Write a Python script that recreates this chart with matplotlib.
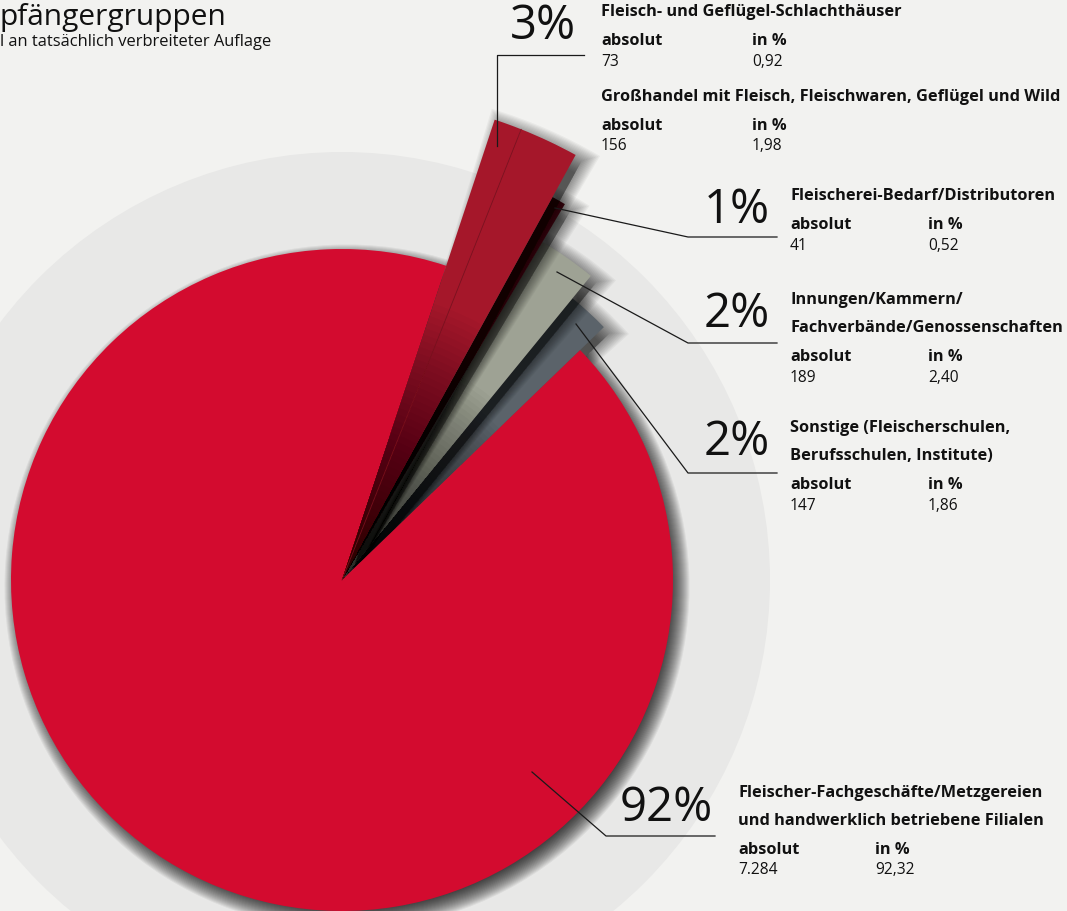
import matplotlib
matplotlib.use("Agg")
import matplotlib.pyplot as plt
from matplotlib.patches import Wedge, Circle
import numpy as np

W, H = 1067, 911

# ---------------- data ----------------
categories = [
    "Sonstige (Fleischerschulen,\nBerufsschulen, Institute)",
    "Innungen/Kammern/\nFachverbände/Genossenschaften",
    "Fleischerei-Bedarf/Distributoren",
    "Großhandel mit Fleisch, Fleischwaren, Geflügel und Wild",
    "Fleisch- und Geflügel-Schlachthäuser",
    "Fleischer-Fachgeschäfte/Metzgereien\nund handwerklich betriebene Filialen",
]
absolute = [147, 189, 41, 156, 73, 7284]
percent = [1.86, 2.40, 0.52, 1.98, 0.92, 92.32]
# groups that share one big percentage label (indices into the lists above)
label_groups = [[0], [1], [2], [3, 4], [5]]

title = "pfängergruppen"
subtitle = "l an tatsächlich verbreiteter Auflage"

# ---------------- styling ----------------
BG = "#F2F2F0"
RING = "#E8E8E7"
colors = ["#5B636A", "#9EA294", "#3E0A12", "#A5172A", "#A5172A", "#D30B2F"]
radii = [364, 393, 437, 485, 485, 331]
CX, CY = 342, H - 580
FONT = ["Open Sans", "DejaVu Sans"]

fig = plt.figure(figsize=(W / 100, H / 100), dpi=100, facecolor=BG)
ax = fig.add_axes([0, 0, 1, 1])
ax.set_facecolor(BG)

wedges, _ = ax.pie(absolute, startangle=44, counterclock=True, center=(CX, CY),
                   radius=331, colors=colors, frame=True,
                   wedgeprops=dict(linewidth=0))
ax.set_xlim(0, W)
ax.set_ylim(0, H)
ax.set_aspect("equal")
ax.axis("off")

ax.add_patch(Circle((CX, CY), 428, color=RING, lw=0, zorder=0.5))


def shadow(t1, t2, r, z, widen=True, n=24, blur=12, alpha=0.05, off=(5, -7)):
    for i in range(n):
        d = -blur + 2 * blur * (i + 0.5) / n
        dt = np.degrees(max(d, 0) / r) if widen else 0
        ax.add_patch(Wedge((CX + off[0], CY + off[1]), r + d, t1 - dt, t2 + dt,
                           color="black", alpha=alpha, lw=0, zorder=z))


def inner_shade(t1, t2, r, z, n=45, frac=0.6, alpha=0.024):
    for i in range(n):
        rr = r * frac * (1 - i / n)
        ax.add_patch(Wedge((CX, CY), rr, t1, t2, color="black", alpha=alpha,
                           lw=0, zorder=z))


# main slice sits above the small-slice shadows (no shadow falls on it)
zorders = [5, 7, 9, 11, 11, 10.8]
for i, w in enumerate(wedges):
    w.set_radius(radii[i])
    w.set_zorder(zorders[i])
    if i == 5:
        shadow(w.theta1, w.theta2, radii[i], 2, widen=False, blur=12, alpha=0.055,
               off=(5, -7))
    else:
        if i != 4:
            t1 = w.theta1
            t2 = wedges[4].theta2 if i == 3 else w.theta2
            shadow(t1, t2, radii[i], zorders[i] - 1, blur=14, alpha=0.04, off=(6, -6))
        inner_shade(w.theta1, w.theta2, radii[i], zorders[i] + 0.5)

# thin divider between the two red sub-slices
th = np.radians(wedges[4].theta1)
ax.plot([CX, CX + 485 * np.cos(th)], [CY, CY + 485 * np.sin(th)],
        color="#7E0F1E", lw=0.6, zorder=11.8)

# ---------------- leader lines (image pixel coords) ----------------
leaders = [
    [(576, 324), (688, 473), (777, 473)],
    [(557, 272), (688, 343), (777, 343)],
    [(555, 208), (688, 237), (777, 237)],
    [(497, 146), (497, 55), (584, 55)],
    [(532, 772), (606, 836), (715, 836)],
]
for pts in leaders:
    xs = [p[0] for p in pts]
    ys = [H - p[1] for p in pts]
    ax.plot(xs, ys, color="#1a1a1a", lw=0.9, zorder=20)


def T(x, y, s, **kw):
    kw.setdefault("family", FONT)
    kw.setdefault("color", "#111111")
    ax.text(x, H - y, s, zorder=25, **kw)


# title (cut off at left edge as in the reference)
T(0, 18, title, fontsize=21.5, va="center", ha="left")
T(0, 42, subtitle, fontsize=11.9, va="center", ha="left")

# big percentage labels: (right x, center y)
big_pos = [(770, 442), (770, 314), (770, 210), (576, 26), (713, 808)]
for grp, (x, y) in zip(label_groups, big_pos):
    val = sum(percent[k] for k in grp)
    T(x, y, f"{round(val):.0f}%", fontsize=34, ha="right", va="center")

# label blocks: (x, title center y, in%-col x) per category
blocks = {
    0: (790, 428, 928),
    1: (790, 300, 928),
    2: (790, 196, 928),
    3: (601, 97, 752),
    4: (601, 12, 752),
    5: (738, 793, 875),
}
LS = 28
FS = 11.8
for k, (x, y, x2) in blocks.items():
    lines = categories[k].split("\n")
    for j, ln in enumerate(lines):
        T(x, y + j * LS, ln, fontsize=FS, fontweight="bold", va="center")
    ya = y + (len(lines) - 1) * LS + 29
    T(x, ya, "absolut", fontsize=FS, fontweight="bold", va="center")
    T(x2, ya, "in %", fontsize=FS, fontweight="bold", va="center")
    T(x, ya + 20.5, f"{absolute[k]:,}".replace(",", "."), fontsize=FS - 0.6, va="center")
    T(x2, ya + 20.5, f"{percent[k]:.2f}".replace(".", ","), fontsize=FS - 0.6, va="center")

fig.savefig("out.png", dpi=100, facecolor=BG)
